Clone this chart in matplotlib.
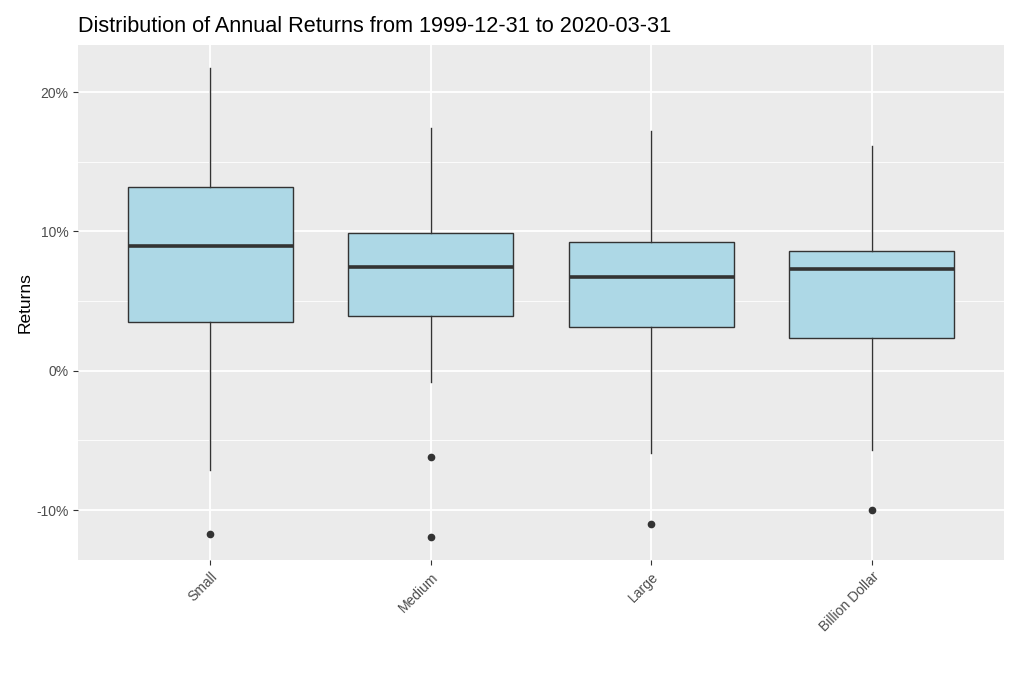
import matplotlib
matplotlib.use("Agg")
import matplotlib.pyplot as plt
from matplotlib.ticker import FuncFormatter, MultipleLocator

plt.rcParams['font.family'] = ['Liberation Sans', 'DejaVu Sans']

categories = ["Small", "Medium", "Large", "Billion Dollar"]
whislo = [-7.1, -0.8, -5.9, -5.66]
q1 = [3.5, 3.94, 3.15, 2.37]
med = [8.96, 7.45, 6.74, 7.3]
q3 = [13.2, 9.9, 9.25, 8.6]
whishi = [21.7, 17.4, 17.2, 16.1]
outliers = [[-11.7], [-6.2, -11.9], [-11.0], [-10.0]]

stats = []
for i, c in enumerate(categories):
    stats.append(dict(label=c, whislo=whislo[i], q1=q1[i], med=med[i],
                      q3=q3[i], whishi=whishi[i], fliers=outliers[i]))

fig = plt.figure(figsize=(10.24, 6.74), dpi=100)
ax = fig.add_axes([78/1024, 1-560/674, (1004-78)/1024, (560-45)/674])
ax.set_facecolor("#EBEBEB")

ax.bxp(stats, positions=[1, 2, 3, 4], widths=0.75, patch_artist=True,
       showcaps=False,
       boxprops=dict(facecolor="#ADD8E6", edgecolor="#333333", linewidth=1.0),
       medianprops=dict(color="#333333", linewidth=2.6),
       whiskerprops=dict(color="#333333", linewidth=1.0),
       flierprops=dict(marker="o", markerfacecolor="#333333", markeredgecolor="#333333",
                       markersize=4.5, linestyle="none"),
       zorder=3)

ax.set_xlim(0.4, 4.6)
ax.set_ylim(-13.58, 23.38)
ax.yaxis.set_major_locator(MultipleLocator(10))
ax.yaxis.set_minor_locator(MultipleLocator(5))
ax.yaxis.set_major_formatter(FuncFormatter(lambda v, p: f"{v:.0f}%"))
ax.set_xticks([1, 2, 3, 4])
ax.set_xticklabels(categories, rotation=45, ha="right", va="top", rotation_mode="anchor")

ax.grid(which="major", color="white", linewidth=1.3, zorder=0)
ax.grid(which="minor", axis="y", color="white", linewidth=0.6, zorder=0)
ax.set_axisbelow(True)
for s in ax.spines.values():
    s.set_visible(False)
ax.tick_params(axis="both", which="major", colors="#333333", length=3.5, width=0.8,
               labelcolor="#4D4D4D", labelsize=10)
ax.tick_params(axis="y", which="minor", length=0)

ax.set_ylabel("Returns", fontsize=12.5, color="black", labelpad=2)
ax.set_title("Distribution of Annual Returns from 1999-12-31 to 2020-03-31",
             loc="left", fontsize=15.6, color="black", pad=9)

fig.savefig("out.png", dpi=100)
